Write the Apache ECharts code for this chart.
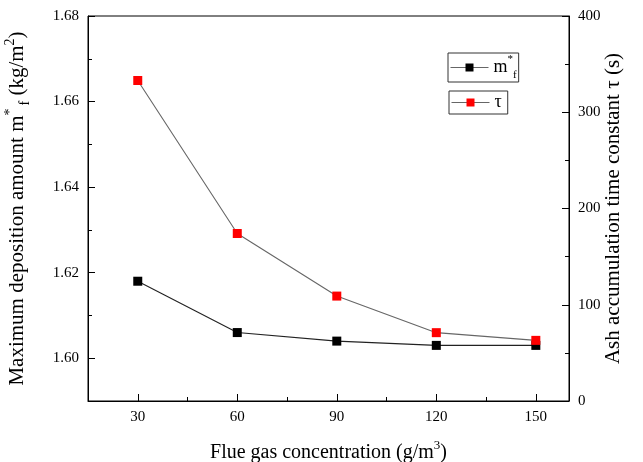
<!DOCTYPE html>
<html>
<head>
<meta charset="utf-8">
<script src="https://cdn.jsdelivr.net/npm/echarts@6/dist/echarts.min.js"></script>
<style>
  html, body { margin: 0; padding: 0; background: #fff; }
  #chart { width: 643px; height: 462px; }
</style>
</head>
<body>
<div id="chart"></div>
<script>
// Flue gas concentration (g/m3)
var concentration = [30, 60, 90, 120, 150];
// Maximum deposition amount m*f (kg/m2)
var maxDeposition = [1.618, 1.606, 1.604, 1.603, 1.603];
// Ash accumulation time constant tau (s)
var timeConstant = [333, 174, 109, 71, 63];

var xMajorTicks = [30, 60, 90, 120, 150];
var xMinorTicks = [45, 75, 105, 135];
var leftMajorTicks = [1.60, 1.62, 1.64, 1.66, 1.68];
var leftMinorTicks = [1.59, 1.61, 1.63, 1.65, 1.67];
var rightMajorTicks = [0, 100, 200, 300, 400];
var rightMinorTicks = [50, 150, 250, 350];

function pairs(xs, ys) {
  return xs.map(function (x, i) { return [x, ys[i]]; });
}

var FONT = 'Liberation Serif';
function richFor(size) {
  var small = Math.round(size * 0.65);
  var lh = size + 8;
  return {
    t: { fontFamily: FONT, fontSize: size, color: '#000', lineHeight: lh, verticalAlign: 'middle' },
    sup: { fontFamily: FONT, fontSize: small, color: '#000', lineHeight: lh, verticalAlign: 'top' },
    sub: { fontFamily: FONT, fontSize: small, color: '#000', lineHeight: lh, verticalAlign: 'bottom', padding: [0, 0, 0, 3] }
  };
}

var legendRich = {
  a: { fontFamily: FONT, fontSize: 18, color: '#000', lineHeight: 27, verticalAlign: 'middle' },
  sup: { fontFamily: FONT, fontSize: 11, color: '#000', lineHeight: 27, verticalAlign: 'top' },
  sub: { fontFamily: FONT, fontSize: 11, color: '#000', lineHeight: 27, verticalAlign: 'bottom' }
};

var axisLine = { show: true, lineStyle: { color: '#000', width: 1 } };
var minorAxisBase = {
  axisLine: { show: false },
  axisLabel: { show: false },
  splitLine: { show: false }
};

var chart = echarts.init(document.getElementById('chart'), null, { renderer: 'canvas' });

chart.setOption({
  animation: false,
  backgroundColor: '#fff',
  grid: {
    left: 88, right: 74, top: 16, bottom: 61,
    outerBoundsMode: 'none', containLabel: false,
    show: true, borderColor: '#000', borderWidth: 1, backgroundColor: 'transparent'
  },
  legend: [
    {
      data: ['m*f'],
      left: 448, top: 53,
      orient: 'vertical',
      borderColor: '#333', borderWidth: 1, borderRadius: 0,
      padding: [1, 2, 1, 2],
      itemWidth: 38, itemHeight: 10, itemGap: 4,
      lineStyle: { color: '#666', width: 1 },
      formatter: function () { return '{a|m}{sup|*}{sub|f}'; },
      textStyle: { rich: legendRich }
    },
    {
      data: ['τ'],
      left: 449, top: 91,
      orient: 'vertical',
      borderColor: '#333', borderWidth: 1, borderRadius: 0,
      padding: [1, 6, 1, 2],
      itemWidth: 38, itemHeight: 10,
      lineStyle: { color: '#666', width: 1 },
      textStyle: { fontFamily: FONT, fontSize: 18, color: '#000', lineHeight: 21 }
    }
  ],
  xAxis: [
    {
      type: 'value', min: 15, max: 160,
      name: '{t|Flue gas concentration (g/m}{sup|3}{t|)}',
      nameLocation: 'middle', nameGap: 38,
      nameTextStyle: { rich: richFor(20) },
      axisLine: axisLine,
      axisTick: { show: true, inside: true, length: 7, customValues: xMajorTicks, lineStyle: { color: '#000' } },
      axisLabel: { customValues: xMajorTicks, fontFamily: FONT, fontSize: 15, color: '#000', margin: 9 },
      splitLine: { show: false }
    },
    Object.assign({
      type: 'value', min: 15, max: 160, position: 'bottom',
      axisTick: { show: true, inside: true, length: 4, customValues: xMinorTicks, lineStyle: { color: '#000' } }
    }, minorAxisBase)
  ],
  yAxis: [
    {
      type: 'value', min: 1.59, max: 1.68, position: 'left',
      name: '{t|Maximum deposition amount m}{sup|*}{sub|f}{t| (kg/m}{sup|2}{t|)}',
      nameLocation: 'middle', nameGap: 56, nameRotate: 90,
      nameTextStyle: { rich: richFor(21) },
      axisLine: axisLine,
      axisTick: { show: true, inside: true, length: 7, customValues: leftMajorTicks, lineStyle: { color: '#000' } },
      axisLabel: {
        customValues: leftMajorTicks, fontFamily: FONT, fontSize: 15, color: '#000', margin: 9,
        formatter: function (v) { return v.toFixed(2); }
      },
      splitLine: { show: false }
    },
    {
      type: 'value', min: 0, max: 400, position: 'right',
      name: 'Ash accumulation time constant τ (s)',
      nameLocation: 'middle', nameGap: 34, nameRotate: 90, nameMoveOverlap: false,
      nameTextStyle: { fontFamily: FONT, fontSize: 21, color: '#000' },
      axisLine: axisLine,
      axisTick: { show: true, inside: true, length: 7, customValues: rightMajorTicks, lineStyle: { color: '#000' } },
      axisLabel: { customValues: rightMajorTicks, fontFamily: FONT, fontSize: 15, color: '#000', margin: 9 },
      splitLine: { show: false }
    },
    Object.assign({
      type: 'value', min: 1.59, max: 1.68, position: 'left',
      axisTick: { show: true, inside: true, length: 4, customValues: leftMinorTicks, lineStyle: { color: '#000' } }
    }, minorAxisBase),
    Object.assign({
      type: 'value', min: 0, max: 400, position: 'right',
      axisTick: { show: true, inside: true, length: 4, customValues: rightMinorTicks, lineStyle: { color: '#000' } }
    }, minorAxisBase)
  ],
  series: [
    {
      name: 'm*f', type: 'line', xAxisIndex: 0, yAxisIndex: 0,
      data: pairs(concentration, maxDeposition),
      symbol: 'rect', symbolSize: 9,
      itemStyle: { color: '#000' },
      lineStyle: { color: '#222', width: 1.1 }
    },
    {
      name: 'τ', type: 'line', xAxisIndex: 0, yAxisIndex: 1,
      data: pairs(concentration, timeConstant),
      symbol: 'rect', symbolSize: 9,
      itemStyle: { color: '#ff0000' },
      lineStyle: { color: '#666', width: 1.1 }
    }
  ]
});
</script>
</body>
</html>
